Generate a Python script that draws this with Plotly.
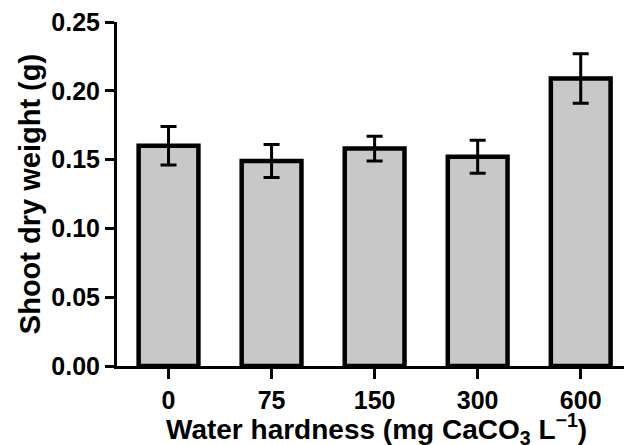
import plotly.graph_objects as go

categories = ["0", "75", "150", "300", "600"]
means = [0.160, 0.149, 0.158, 0.152, 0.209]
errors = [0.014, 0.012, 0.009, 0.012, 0.018]
y_ticks = [0.00, 0.05, 0.10, 0.15, 0.20, 0.25]
y_ticklabels = ["0.00", "0.05", "0.10", "0.15", "0.20", "0.25"]
x_title = "Water hardness (mg CaCO<sub>3</sub> L<sup>−1</sup>)"
y_title = "Shoot dry weight (g)"

font_family = "Liberation Sans, Arial, sans-serif"

fig = go.Figure()
fig.add_trace(go.Bar(
    x=categories,
    y=means,
    width=0.58,
    marker=dict(color="#c8c8c8", line=dict(color="black", width=4.5)),
    error_y=dict(type="data", array=errors, visible=True, color="black",
                 thickness=3, width=8),
))

fig.add_annotation(
    text=x_title, xref="paper", yref="paper", x=0.511, y=-0.183,
    xanchor="center", yanchor="middle", showarrow=False,
    font=dict(size=28, family=font_family, color="black", weight="bold"),
)

fig.update_layout(
    width=624, height=445,
    margin=dict(l=117, r=0, t=22, b=79, autoexpand=False),
    plot_bgcolor="white", paper_bgcolor="white",
    showlegend=False,
    font=dict(family=font_family, color="black"),
    xaxis=dict(
        type="category",
        range=[-0.5, 4.42],
        automargin=False,
        showline=True, linecolor="black", linewidth=3,
        ticks="outside", ticklen=10, tickwidth=3, tickcolor="black",
        tickfont=dict(size=25, family=font_family, color="black", weight="bold"),
        showgrid=False, zeroline=False,
    ),
    yaxis=dict(
        range=[0, 0.25],
        automargin=False,
        tickvals=y_ticks, ticktext=y_ticklabels,
        showline=True, linecolor="black", linewidth=3,
        ticks="outside", ticklen=9, tickwidth=3, tickcolor="black",
        tickfont=dict(size=25, family=font_family, color="black", weight="bold"),
        title=dict(text=y_title,
                   font=dict(size=29, family=font_family, color="black", weight="bold"),
                   standoff=3),
        showgrid=False, zeroline=False,
    ),
)

fig.write_html(
    "out.html",
    config={"displayModeBar": False},
    post_script="document.body.style.margin='0';document.body.style.overflow='hidden';",
)
